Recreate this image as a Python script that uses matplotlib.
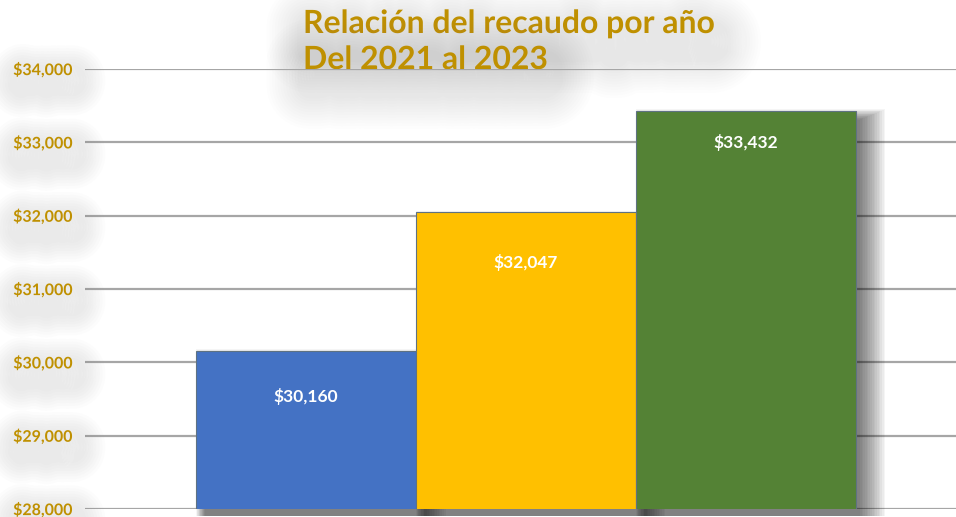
import matplotlib.pyplot as plt
import matplotlib.patheffects as pe
from matplotlib.patches import Rectangle
from matplotlib.ticker import FuncFormatter

# recaudo anual 2021-2023
anios = ["2021", "2022", "2023"]
recaudo = [30160, 32047, 33432]
colores = ["#4472C4", "#FFC000", "#548235"]
y_ticks = [28000, 29000, 30000, 31000, 32000, 33000, 34000]
titulo = ["Relación del recaudo por año", "Del 2021 al 2023"]

oro = "#BF9000"
plt.rcParams["font.family"] = ["Lato", "DejaVu Sans"]

W, H = 956, 517
fig = plt.figure(figsize=(W / 100, H / 100), dpi=100)
fig.patch.set_facecolor("white")
ax = fig.add_axes([85 / W, 8 / H, (W - 85) / W, 440 / H])
ax.set_xlim(-1.005, 2.955)
ax.set_ylim(28000, 34000)

# size of one pixel in data units
px_x = (2.955 + 1.005) / (W - 85)
px_y = 6000 / 440


class Halo(pe.AbstractPathEffect):
    """wide stroke only, no fill -> no ghost copy of the letters"""

    def __init__(self, offset, lw, alpha, color="#8a8a8a"):
        super().__init__(offset)
        self.lw = lw
        self.alpha = alpha
        self.color = color

    def draw_path(self, renderer, gc, tpath, affine, rgbFace=None):
        gc0 = renderer.new_gc()
        gc0.copy_properties(gc)
        gc0.set_linewidth(self.lw)
        gc0.set_foreground(self.color)
        gc0.set_alpha(self.alpha)
        gc0.set_joinstyle("round")
        gc0.set_capstyle("round")
        renderer.draw_path(gc0, tpath, affine + self._offset_transform(renderer), None)
        gc0.restore()


def soft_shadow(alpha, steps, start, spread, dy):
    return [Halo((3, -dy), start + spread * i, alpha) for i in range(steps)][::-1]


# drop shadow behind the bars (stacked rectangles to fake a blur)
x = list(range(len(anios)))
for xi, v in zip(x, recaudo):
    for k in range(16):
        g = k * 1.7
        left = xi - 0.5 + (9 - 0.35 * g) * px_x
        right = xi + 0.5 + (4 + g) * px_x
        top = v - (9 - 0.4 * g) * px_y
        ax.add_patch(Rectangle(
            (left, 27900), right - left, top - 27900,
            facecolor="black", edgecolor="none", alpha=0.04,
            zorder=2, clip_on=False))

ax.bar(x, recaudo, width=1.0, color=colores, edgecolor="#5f7282",
       linewidth=0.8, zorder=3)

label_off = [-33, -36, -23]
for xi, v, off in zip(x, recaudo, label_off):
    ax.annotate(f"${v:,}", (xi, v), xytext=(0, off), textcoords="offset points",
                ha="center", va="center", color="white", fontsize=12.5,
                fontweight="bold", zorder=4)

ax.set_yticks(y_ticks)
ax.yaxis.set_major_formatter(FuncFormatter(lambda v, p: f"${v:,.0f}"))
ax.set_xticks([])
ax.tick_params(axis="y", length=0, pad=9, labelsize=11.5, labelcolor=oro)
for lbl in ax.get_yticklabels():
    lbl.set_fontweight("bold")
    lbl.set_path_effects(soft_shadow(0.02, 8, 14, 4, 8) + [pe.Normal()])
ax.yaxis.grid(True, color="#A6A6A6", linewidth=1.6)
ax.set_axisbelow(True)
for s in ax.spines.values():
    s.set_visible(False)

# two-line title, the grid line runs over the second line
for linea, base in zip(titulo, [33, 69]):
    ax.text(303 / W, 1 - base / H, linea, transform=fig.transFigure,
            ha="left", va="baseline", fontsize=23, fontweight="bold",
            color=oro, zorder=0.4, clip_on=False,
            path_effects=soft_shadow(0.016, 12, 18, 4, 12) + [pe.Normal()])

fig.savefig("out.png", dpi=100)
